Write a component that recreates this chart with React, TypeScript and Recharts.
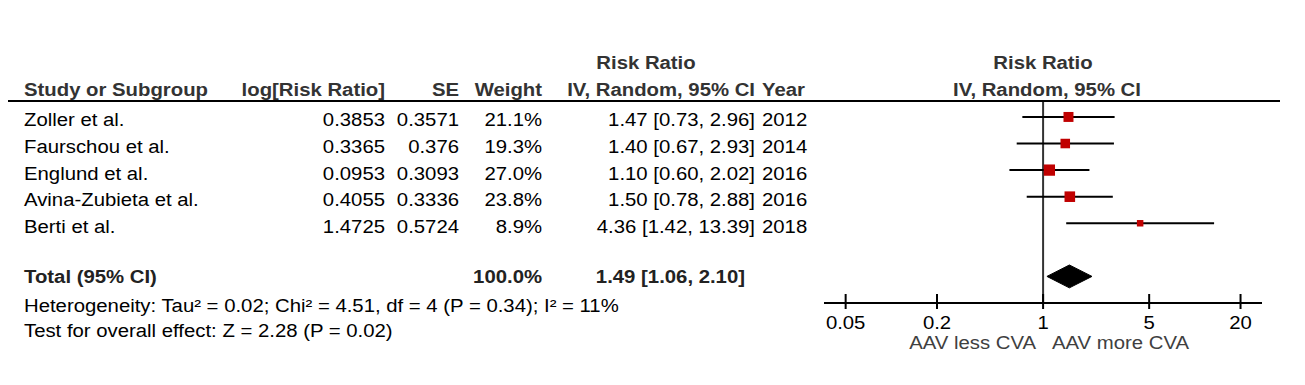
import React from "react";
import {
  ComposedChart,
  XAxis,
  YAxis,
  Scatter,
  Area,
  ReferenceLine,
} from "recharts";

// ---------------- data ----------------
const studies = ["Zoller et al.", "Faurschou et al.", "Englund et al.", "Avina-Zubieta et al.", "Berti et al."];
const logRR = ["0.3853", "0.3365", "0.0953", "0.4055", "1.4725"];
const seVals = ["0.3571", "0.376", "0.3093", "0.3336", "0.5724"];
const weights = [21.1, 19.3, 27.0, 23.8, 8.9];
const riskRatio = [1.47, 1.4, 1.1, 1.5, 4.36];
const ciLow = [0.73, 0.67, 0.6, 0.78, 1.42];
const ciHigh = [2.96, 2.93, 2.02, 2.88, 13.39];
const years = [2012, 2014, 2016, 2016, 2018];

const totalLabel = "Total (95% CI)";
const totalWeight = 100.0;
const totalRR = 1.49;
const totalLow = 1.06;
const totalHigh = 2.1;
const heterogeneity = "Heterogeneity: Tau² = 0.02; Chi² = 4.51, df = 4 (P = 0.34); I² = 11%";
const overallEffect = "Test for overall effect: Z = 2.28 (P = 0.02)";

const xTicks = [0.05, 0.2, 1, 5, 20];
const leftLabel = "AAV less CVA";
const rightLabel = "AAV more CVA";

// ---------------- layout ----------------
const W = 1305;
const H = 385;
const PLOT_TOP = 101;
const PLOT_BOTTOM = 303;
const PLOT_LEFT = 824;
const PLOT_RIGHT = 1262;
const Y_MIN = -0.6;
const Y_MAX = 7;
const TOTAL_ROW = 6;
const DIAMOND_HALF = 0.43;
const FS = 18;
const SX = 1.13;
const FONT = "'Liberation Sans', Arial, Helvetica, sans-serif";

const rowY = (i: number) => PLOT_TOP + ((i - Y_MIN) * (PLOT_BOTTOM - PLOT_TOP)) / (Y_MAX - Y_MIN);

const scatterData = studies.map((s, i) => ({ x: riskRatio[i], y: i, w: weights[i] }));
const diamondData = [
  { x: totalLow, r: [TOTAL_ROW, TOTAL_ROW] },
  { x: totalRR, r: [TOTAL_ROW - DIAMOND_HALF, TOTAL_ROW + DIAMOND_HALF] },
  { x: totalHigh, r: [TOTAL_ROW, TOTAL_ROW] },
];

const fmtCI = (m: number, l: number, h: number) => `${m.toFixed(2)} [${l.toFixed(2)}, ${h.toFixed(2)}]`;

function T({ x, y, anchor = "start", bold = false, fill = "#000", children }: any) {
  return (
    <text
      transform={`translate(${x},${y}) scale(${SX},1)`}
      textAnchor={anchor}
      fontWeight={bold ? 700 : 400}
      fontSize={FS}
      fill={fill}
      fontFamily={FONT}
    >
      {children}
    </text>
  );
}

const Square = (props: any) => {
  const { cx, cy, payload } = props;
  const s = 2.17 * Math.sqrt(payload.w);
  return <rect x={cx - s / 2} y={cy - s / 2} width={s} height={s} fill="#C00000" />;
};

const Tick = (props: any) => {
  const { x, y, payload } = props;
  return (
    <g>
      <line x1={x} x2={x} y1={y - 9} y2={y + 6} stroke="#000" strokeWidth={2} />
      <T x={x} y={y + 26} anchor="middle">{String(payload.value)}</T>
    </g>
  );
};

const HDR = "#333";

export default function App() {
  const hdr1 = rowY(-2) + 5.5;
  const hdr2 = rowY(-1) + 5.7;
  return (
    <div style={{ position: "absolute", left: 0, top: 0, width: W, height: H, background: "#fff" }}>
      <div style={{ position: "absolute", left: 0, top: 0 }}>
        <ComposedChart
          width={W}
          height={H}
          data={diamondData}
          margin={{ top: PLOT_TOP, bottom: H - PLOT_BOTTOM - 40, left: PLOT_LEFT, right: W - PLOT_RIGHT }}
        >
          <XAxis
            dataKey="x"
            type="number"
            scale="log"
            domain={[0.036, 27.7]}
            allowDataOverflow
            ticks={xTicks}
            height={40}
            tickLine={false}
            tickSize={0}
            tickMargin={0}
            axisLine={{ stroke: "#000", strokeWidth: 2 }}
            tick={<Tick />}
            interval={0}
          />
          <YAxis type="number" dataKey="y" domain={[Y_MIN, Y_MAX]} reversed hide allowDataOverflow />
          <ReferenceLine x={1} stroke="#333" strokeWidth={2} />
          {studies.map((s, i) => (
            <ReferenceLine
              key={s}
              segment={[
                { x: ciLow[i], y: i },
                { x: ciHigh[i], y: i },
              ]}
              stroke="#000"
              strokeWidth={2}
            />
          ))}
          <Area
            type="linear"
            dataKey="r"
            stroke="#000"
            strokeWidth={1}
            fill="#000"
            fillOpacity={1}
            isAnimationActive={false}
            dot={false}
            activeDot={false}
          />
          <Scatter data={scatterData} dataKey="y" shape={<Square />} isAnimationActive={false} />
        </ComposedChart>
      </div>
      <svg
        width={W}
        height={H}
        style={{ position: "absolute", left: 0, top: 0, pointerEvents: "none" }}
      >
        <line x1={8} x2={1280} y1={PLOT_TOP} y2={PLOT_TOP} stroke="#000" strokeWidth={2} />
        {/* header row 1 */}
        <T x={646} y={hdr1} anchor="middle" bold fill={HDR}>Risk Ratio</T>
        <T x={1043} y={hdr1} anchor="middle" bold fill={HDR}>Risk Ratio</T>
        {/* header row 2 */}
        <T x={24} y={hdr2} bold fill={HDR}>Study or Subgroup</T>
        <T x={385} y={hdr2} anchor="end" bold fill={HDR}>log[Risk Ratio]</T>
        <T x={459} y={hdr2} anchor="end" bold fill={HDR}>SE</T>
        <T x={542} y={hdr2} anchor="end" bold fill={HDR}>Weight</T>
        <T x={755} y={hdr2} anchor="end" bold fill={HDR}>IV, Random, 95% CI</T>
        <T x={762} y={hdr2} bold fill={HDR}>Year</T>
        <T x={1047} y={hdr2} anchor="middle" bold fill={HDR}>IV, Random, 95% CI</T>
        {/* study rows */}
        {studies.map((s, i) => {
          const y = rowY(i) + 9.5;
          return (
            <g key={s}>
              <T x={24} y={y}>{s}</T>
              <T x={385} y={y} anchor="end">{logRR[i]}</T>
              <T x={459} y={y} anchor="end">{seVals[i]}</T>
              <T x={542} y={y} anchor="end">{`${weights[i].toFixed(1)}%`}</T>
              <T x={755} y={y} anchor="end">{fmtCI(riskRatio[i], ciLow[i], ciHigh[i])}</T>
              <T x={762} y={y}>{String(years[i])}</T>
            </g>
          );
        })}
        {/* total */}
        <T x={24} y={rowY(TOTAL_ROW) + 7} bold fill="#222">{totalLabel}</T>
        <T x={542} y={rowY(TOTAL_ROW) + 7} anchor="end" bold fill="#222">{`${totalWeight.toFixed(1)}%`}</T>
        <T x={745} y={rowY(TOTAL_ROW) + 7} anchor="end" bold fill="#222">{fmtCI(totalRR, totalLow, totalHigh)}</T>
        <T x={24} y={rowY(7) + 8.7}>{heterogeneity}</T>
        <T x={24} y={rowY(8) + 7.5}>{overallEffect}</T>
        {/* axis direction labels */}
        <T x={1036} y={349} anchor="end" fill="#404040">{leftLabel}</T>
        <T x={1052} y={349} fill="#404040">{rightLabel}</T>
      </svg>
    </div>
  );
}
